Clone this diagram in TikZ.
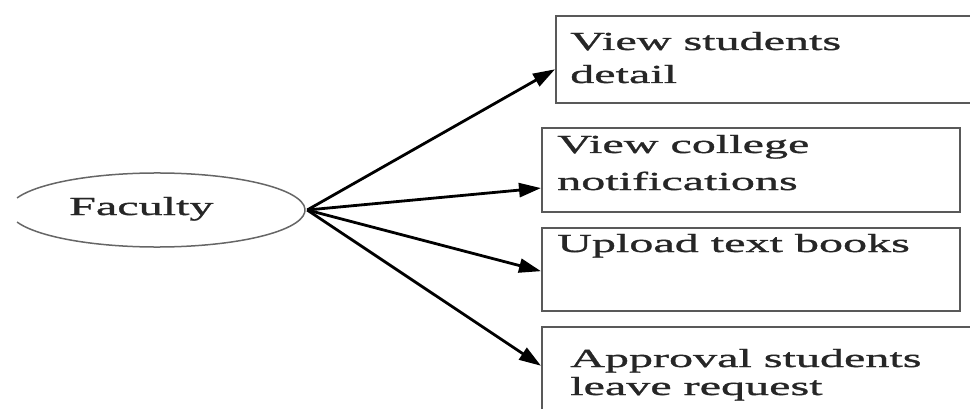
\documentclass[tikz,border=0pt]{standalone}
\usepackage{fontspec}
\setmainfont[FakeStretch=1.85,FakeBold=1.2]{Liberation Serif}
\usetikzlibrary{arrows.meta,calc,shapes.geometric}
\begin{document}
\begin{tikzpicture}[x=1pt,y=-1pt,
  boxstyle/.style={draw=black!65,line width=2pt,rectangle,inner sep=0pt},
  lbl/.style={anchor=base west,inner sep=0pt,text=black!85,font=\fontsize{26}{30}\selectfont},
  conn/.style={line width=2.8pt,-{Triangle[length=22pt,width=14pt]}},
  ellline/.style={draw=black!60,line width=1.5pt}]
\useasboundingbox (0,0) rectangle (970,409);
% Faculty ellipse (left end open)
\node[ellipse,minimum width=296pt,minimum height=74pt,inner sep=0pt] (fac) at (157,210) {};
\draw[ellline] ([shift={(161:148 and 37)}]fac.center) arc[start angle=161,end angle=-161,x radius=148,y radius=37];
\node[lbl] (tfac) at (69,215) {Faculty};
% boxes
\node[boxstyle,minimum width=430pt,minimum height=87pt,anchor=north west] (b1) at (555,15) {};
\node[boxstyle,minimum width=418pt,minimum height=84pt,anchor=north west] (b2) at (541,127) {};
\node[boxstyle,minimum width=418pt,minimum height=83pt,anchor=north west] (b3) at (541,227) {};
\node[boxstyle,minimum width=440pt,minimum height=100pt,anchor=north west] (b4) at (541,326) {};
% texts
\node[lbl] (t1a) at (570,50) {View students};
\node[lbl] (t1b) at (570,83) {detail};
\node[lbl] (t2a) at (557,153) {View college};
\node[lbl] (t2b) at (557,190) {notifications};
\node[lbl] (t3a) at (557,252) {Upload text books};
\node[lbl] (t4a) at (570,367) {Approval students};
\node[lbl] (t4b) at (570,395) {leave request};
% connectors
\coordinate (src) at ($(fac.east)+(2,0)$);
\draw[conn] (src) -- ($(b1.north west)!0.61!(b1.south west)$);
\draw[conn] (src) -- ($(b2.north west)!0.71!(b2.south west)$);
\draw[conn] (src) -- ($(b3.north west)!0.52!(b3.south west)$);
\draw[conn] (src) -- ($(b4.north west)!0.39!(b4.south west)$);
\end{tikzpicture}
\end{document}
